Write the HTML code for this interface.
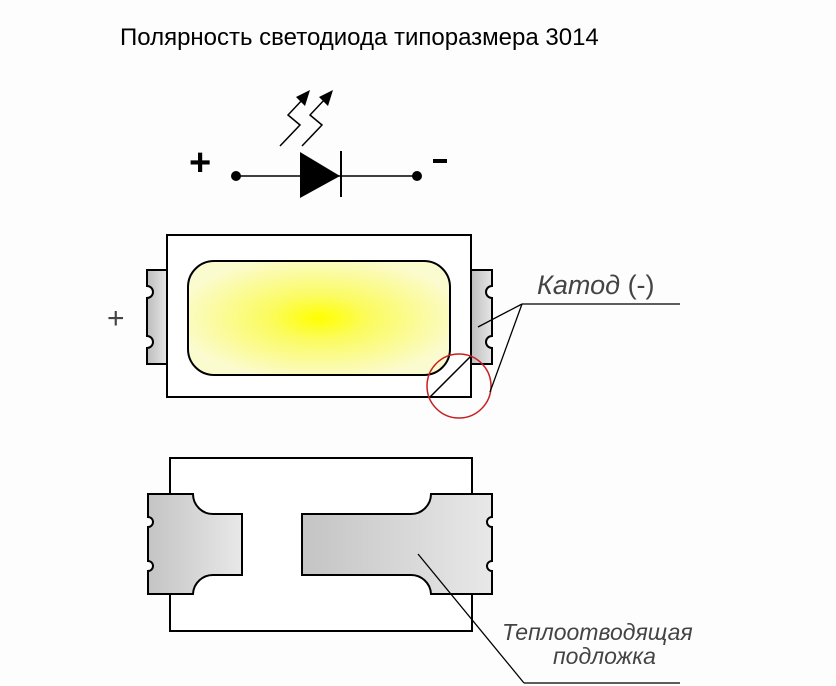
<!DOCTYPE html>
<html><head><meta charset="utf-8"><style>
html,body{margin:0;padding:0;background:#fff;}
svg{display:block}
</style></head><body>
<svg width="836" height="686" viewBox="0 0 836 686" xmlns="http://www.w3.org/2000/svg">
<defs>
<radialGradient id="yg" cx="50%" cy="50%" r="55%">
<stop offset="0" stop-color="#ffff00"/><stop offset="0.35" stop-color="#fbfb60"/><stop offset="1" stop-color="#fbfbd0"/>
</radialGradient>
<linearGradient id="pg" x1="0" x2="1"><stop offset="0" stop-color="#bdbdbd"/><stop offset="1" stop-color="#e6e6e6"/></linearGradient>
<linearGradient id="pg2" x1="0" x2="1"><stop offset="0" stop-color="#c4c4c4"/><stop offset="1" stop-color="#e8e8e8"/></linearGradient>
</defs>
<rect width="836" height="686" fill="#fdfdfd"/>
<text x="120" y="45" font-family="Liberation Sans, sans-serif" font-size="24" fill="#000">Полярность светодиода типоразмера 3014</text>

<!-- diode symbol -->
<text x="189" y="175" font-family="Liberation Sans, sans-serif" font-size="38" font-weight="bold">+</text>
<rect x="433" y="159" width="14" height="4" fill="#000"/>
<line x1="236" y1="176" x2="417" y2="176" stroke="#000" stroke-width="1.5"/>
<circle cx="236" cy="176" r="5"/><circle cx="417" cy="176" r="5"/>
<polygon points="300,152 300,198 340,176" fill="#000"/>
<line x1="341" y1="151" x2="341" y2="197" stroke="#000" stroke-width="2"/>
<polyline points="280,146 300,125 288,115 304,98" fill="none" stroke="#000" stroke-width="1.5"/>
<polygon points="310,90 296,97 305,106" fill="#000"/>
<polyline points="302,146 322,125 310,115 326,98" fill="none" stroke="#000" stroke-width="1.5"/>
<polygon points="333,90 319,97 328,106" fill="#000"/>

<!-- top view -->
<text x="107" y="328" font-family="Liberation Sans, sans-serif" font-size="30" fill="#444">+</text>
<path d="M147,270 H167 V364 H147 V348 a6,6 0 0 0 0,-12 V298 a6,6 0 0 0 0,-12 Z" fill="url(#pg)" stroke="#000" stroke-width="2"/>
<path d="M471,270 H492 V286 a6,6 0 0 0 0,12 V336 a6,6 0 0 0 0,12 V364 H471 Z" fill="url(#pg)" stroke="#000" stroke-width="2"/>
<rect x="167" y="235" width="304" height="162" fill="#fff" stroke="#000" stroke-width="2"/>
<rect x="188" y="261" width="262" height="114" rx="26" fill="url(#yg)" stroke="#000" stroke-width="2"/>
<line x1="430" y1="397" x2="471" y2="356" stroke="#000" stroke-width="1.5"/>
<circle cx="459" cy="386" r="32" fill="none" stroke="#c62020" stroke-width="1.5"/>
<line x1="478" y1="327" x2="522" y2="304" stroke="#000" stroke-width="1.3"/>
<line x1="490" y1="392" x2="522" y2="304" stroke="#000" stroke-width="1.3"/>
<line x1="522" y1="304" x2="680" y2="304" stroke="#000" stroke-width="1.3"/>
<text x="537" y="294" font-family="Liberation Sans, sans-serif" font-size="27" fill="#444" font-style="italic">Катод <tspan font-style="normal">(-)</tspan></text>

<!-- bottom view -->
<rect x="170" y="458" width="302" height="173" fill="#fff" stroke="#000" stroke-width="2"/>
<path d="M148,494 H193 A20,20 0 0 0 214,514 H242 V575 H214 A20,20 0 0 0 193,594 H148 V571 a5,5 0 0 0 0,-10 V527 a5,5 0 0 0 0,-10 Z" fill="url(#pg2)" stroke="#000" stroke-width="2"/>
<path d="M492,494 H431 A20,20 0 0 1 410,514 H302 V575 H410 A20,20 0 0 1 431,594 H492 V571 a5,5 0 0 1 0,-10 V527 a5,5 0 0 1 0,-10 Z" fill="url(#pg2)" stroke="#000" stroke-width="2"/>
<line x1="418" y1="554" x2="524" y2="683" stroke="#000" stroke-width="1.3"/>
<line x1="524" y1="683" x2="680" y2="683" stroke="#000" stroke-width="1.3"/>
<text x="502" y="640" font-family="Liberation Sans, sans-serif" font-size="23" fill="#444" font-style="italic">Теплоотводящая</text>
<text x="553" y="664" font-family="Liberation Sans, sans-serif" font-size="23" fill="#444" font-style="italic">подложка</text>
</svg>
</body></html>
